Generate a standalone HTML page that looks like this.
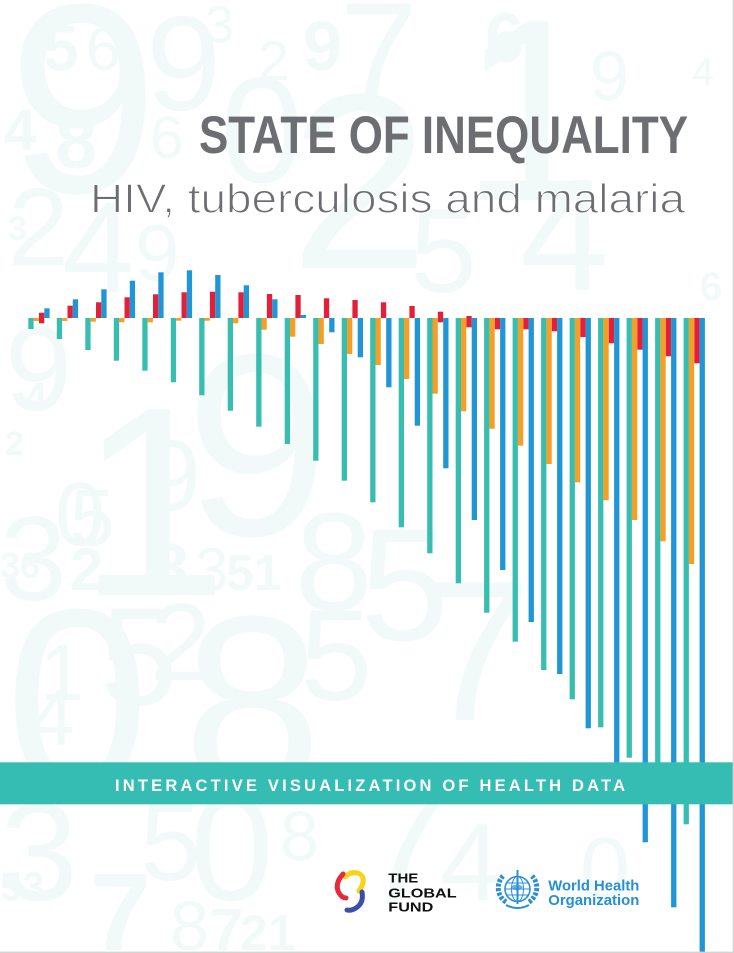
<!DOCTYPE html>
<html>
<head>
<meta charset="utf-8">
<style>
  html,body{margin:0;padding:0;background:#fff;}
  body{width:734px;height:953px;overflow:hidden;}
  svg{display:block;}
</style>
</head>
<body>
<svg width="734" height="953" viewBox="0 0 734 953" xmlns="http://www.w3.org/2000/svg">
  <rect x="0" y="0" width="734" height="953" fill="#ffffff"/>

  <!-- background numerals -->
  <g fill="#f2faf9" font-family="Liberation Sans, sans-serif">
    <text x="8" y="192" font-size="270">9</text>
    <text x="43" y="70" font-size="64" font-weight="bold">5</text>
    <text x="86" y="70" font-size="62">6</text>
    <text x="146" y="110" font-size="135">9</text>
    <text x="205" y="42" font-size="52">3</text>
    <text x="258" y="80" font-size="56">2</text>
    <text x="303" y="70" font-size="70" font-weight="bold">9</text>
    <text x="340" y="100" font-size="140">7</text>
    <text x="460" y="200" font-size="260">1</text>
    <text x="485" y="62" font-size="70" font-weight="bold">6</text>
    <text x="590" y="100" font-size="70">9</text>
    <text x="692" y="85" font-size="40">4</text>
    <text x="4" y="150" font-size="58" font-weight="bold">4</text>
    <text x="55" y="168" font-size="76" font-weight="bold">8</text>
    <text x="150" y="158" font-size="60">6</text>
    <text x="220" y="182" font-size="150">0</text>
    <text x="290" y="268" font-size="250">2</text>
    <text x="8" y="265" font-size="110">2</text>
    <text x="8" y="240" font-size="34" font-weight="bold">3</text>
    <text x="62" y="292" font-size="130">4</text>
    <text x="135" y="280" font-size="80">9</text>
    <text x="410" y="292" font-size="120">5</text>
    <text x="520" y="290" font-size="160">4</text>
    <text x="700" y="300" font-size="40" font-weight="bold">6</text>
    <text x="5" y="410" font-size="120">9</text>
    <text x="25" y="410" font-size="40" font-weight="bold">4</text>
    <text x="5" y="455" font-size="34" font-weight="bold">2</text>
    <text x="78" y="595" font-size="270">1</text>
    <text x="185" y="535" font-size="260">9</text>
    <text x="145" y="510" font-size="100">9</text>
    <text x="55" y="545" font-size="90">0</text>
    <text x="70" y="545" font-size="80">5</text>
    <text x="0" y="600" font-size="120">3</text>
    <text x="0" y="578" font-size="36" font-weight="bold">36</text>
    <text x="70" y="590" font-size="60" font-weight="bold">2</text>
    <text x="150" y="592" font-size="70" font-weight="bold">8</text>
    <text x="195" y="590" font-size="60">3</text>
    <text x="226" y="590" font-size="50" font-weight="bold">51</text>
    <text x="295" y="610" font-size="140">8</text>
    <text x="360" y="640" font-size="160">5</text>
    <text x="420" y="720" font-size="200">7</text>
    <text x="5" y="790" font-size="260">0</text>
    <text x="100" y="705" font-size="140">5</text>
    <text x="150" y="680" font-size="110">2</text>
    <text x="183" y="790" font-size="250">8</text>
    <text x="300" y="700" font-size="130">5</text>
    <text x="40" y="700" font-size="80">1</text>
    <text x="30" y="745" font-size="80">4</text>
    <text x="0" y="900" font-size="140">3</text>
    <text x="0" y="900" font-size="40" font-weight="bold">53</text>
    <text x="140" y="880" font-size="110">5</text>
    <text x="90" y="950" font-size="110" font-weight="bold">7</text>
    <text x="190" y="900" font-size="150">0</text>
    <text x="170" y="950" font-size="70">8</text>
    <text x="210" y="950" font-size="60" font-weight="bold">7</text>
    <text x="240" y="950" font-size="50" font-weight="bold">21</text>
    <text x="280" y="860" font-size="70">8</text>
    <text x="360" y="900" font-size="160">7</text>
    <text x="440" y="900" font-size="110">4</text>
    <text x="580" y="900" font-size="90">0</text>
  </g>

  <!-- title -->
  <text x="199" y="153" font-family="Liberation Sans, sans-serif" font-weight="bold" font-size="52.5" fill="#6d6e71" textLength="489" lengthAdjust="spacingAndGlyphs">STATE OF INEQUALITY</text>
  <text x="90" y="212.5" font-family="Liberation Sans, sans-serif" font-size="41" fill="#6d6e71" stroke="#ffffff" stroke-width="1.1" textLength="595" lengthAdjust="spacingAndGlyphs">HIV, tuberculosis and malaria</text>

  <!-- bars -->
  <g id="teal" fill="#38bdb1">
    <rect x="28.3" y="318" width="5.3" height="11"/>
    <rect x="56.8" y="318" width="5.3" height="21"/>
    <rect x="85.3" y="318" width="5.3" height="32"/>
    <rect x="113.8" y="318" width="5.3" height="42.7"/>
    <rect x="142.3" y="318" width="5.3" height="52.7"/>
    <rect x="170.8" y="318" width="5.3" height="64.3"/>
    <rect x="199.2" y="318" width="5.3" height="77.3"/>
    <rect x="227.7" y="318" width="5.3" height="92.7"/>
    <rect x="256.2" y="318" width="5.3" height="108.7"/>
    <rect x="284.7" y="318" width="5.3" height="126"/>
    <rect x="313.2" y="318" width="5.3" height="142.7"/>
    <rect x="341.7" y="318" width="5.3" height="162.7"/>
    <rect x="370.2" y="318" width="5.3" height="184.3"/>
    <rect x="398.7" y="318" width="5.3" height="209.3"/>
    <rect x="427.2" y="318" width="5.3" height="235.3"/>
    <rect x="455.7" y="318" width="5.3" height="265.3"/>
    <rect x="484.1" y="318" width="5.3" height="294.7"/>
    <rect x="512.6" y="318" width="5.3" height="323.7"/>
    <rect x="541.1" y="318" width="5.3" height="352"/>
    <rect x="569.6" y="318" width="5.3" height="381.3"/>
    <rect x="598.1" y="318" width="5.3" height="409.3"/>
    <rect x="626.6" y="318" width="5.3" height="439.7"/>
    <rect x="655.1" y="318" width="5.3" height="472"/>
    <rect x="683.6" y="318" width="5.3" height="506.3"/>
  </g>
  <g id="orange" fill="#f59f26">
    <rect x="33.6" y="318" width="5.3" height="3"/>
    <rect x="62.1" y="318" width="5.3" height="3"/>
    <rect x="90.6" y="318" width="5.3" height="3.7"/>
    <rect x="119.1" y="318" width="5.3" height="4.3"/>
    <rect x="147.6" y="318" width="5.3" height="4.3"/>
    <rect x="176.1" y="318" width="5.3" height="2.7"/>
    <rect x="204.5" y="318" width="5.3" height="2.7"/>
    <rect x="233" y="318" width="5.3" height="5.3"/>
    <rect x="261.5" y="318" width="5.3" height="11.7"/>
    <rect x="290" y="318" width="5.3" height="18.7"/>
    <rect x="318.5" y="318" width="5.3" height="26"/>
    <rect x="347" y="318" width="5.3" height="36"/>
    <rect x="375.5" y="318" width="5.3" height="47"/>
    <rect x="404" y="318" width="5.3" height="61"/>
    <rect x="432.5" y="318" width="5.3" height="75.7"/>
    <rect x="461" y="318" width="5.3" height="93.3"/>
    <rect x="489.4" y="318" width="5.3" height="110.7"/>
    <rect x="517.9" y="318" width="5.3" height="127.7"/>
    <rect x="546.4" y="318" width="5.3" height="146"/>
    <rect x="574.9" y="318" width="5.3" height="164.3"/>
    <rect x="603.4" y="318" width="5.3" height="182.3"/>
    <rect x="631.9" y="318" width="5.3" height="202"/>
    <rect x="660.4" y="318" width="5.3" height="223.3"/>
    <rect x="688.9" y="318" width="5.3" height="246"/>
  </g>
  <g id="red" fill="#e41f3a">
    <rect x="39" y="312.7" width="5.3" height="10.6"/>
    <rect x="67.5" y="305.7" width="5.3" height="12.3"/>
    <rect x="96" y="302.3" width="5.3" height="15.7"/>
    <rect x="124.5" y="297.3" width="5.3" height="20.7"/>
    <rect x="153" y="294.3" width="5.3" height="23.7"/>
    <rect x="181.5" y="292.3" width="5.3" height="25.7"/>
    <rect x="209.9" y="291.7" width="5.3" height="26.3"/>
    <rect x="238.4" y="292.3" width="5.3" height="25.7"/>
    <rect x="266.9" y="294" width="5.3" height="24"/>
    <rect x="295.4" y="295" width="5.3" height="23"/>
    <rect x="323.9" y="298.3" width="5.3" height="19.7"/>
    <rect x="352.4" y="300" width="5.3" height="18"/>
    <rect x="380.9" y="302.3" width="5.3" height="15.7"/>
    <rect x="409.4" y="306" width="5.3" height="12"/>
    <rect x="437.9" y="311.7" width="5.3" height="10.6"/>
    <rect x="466.4" y="316" width="5.3" height="11.3"/>
    <rect x="494.8" y="318" width="5.3" height="11.3"/>
    <rect x="523.3" y="318" width="5.3" height="11.3"/>
    <rect x="551.8" y="318" width="5.3" height="13.3"/>
    <rect x="580.3" y="318" width="5.3" height="19"/>
    <rect x="608.8" y="318" width="5.3" height="25.3"/>
    <rect x="637.3" y="318" width="5.3" height="31.7"/>
    <rect x="665.8" y="318" width="5.3" height="38.3"/>
    <rect x="694.3" y="318" width="5.3" height="45.3"/>
  </g>
  <g id="blue" fill="#2196d4">
    <rect x="44.3" y="308.3" width="5.3" height="9.7"/>
    <rect x="72.8" y="299.3" width="5.3" height="18.7"/>
    <rect x="101.3" y="289.3" width="5.3" height="28.7"/>
    <rect x="129.8" y="280.7" width="5.3" height="37.3"/>
    <rect x="158.3" y="272.3" width="5.3" height="45.7"/>
    <rect x="186.8" y="270.3" width="5.3" height="47.7"/>
    <rect x="215.2" y="275" width="5.3" height="43"/>
    <rect x="243.7" y="285.3" width="5.3" height="32.7"/>
    <rect x="272.2" y="299.3" width="5.3" height="18.7"/>
    <rect x="300.7" y="315" width="5.3" height="3"/>
    <rect x="329.2" y="318" width="5.3" height="14.3"/>
    <rect x="357.7" y="318" width="5.3" height="39.3"/>
    <rect x="386.2" y="318" width="5.3" height="69.3"/>
    <rect x="414.7" y="318" width="5.3" height="107.7"/>
    <rect x="443.2" y="318" width="5.3" height="150.3"/>
    <rect x="471.7" y="318" width="5.3" height="202"/>
    <rect x="500.1" y="318" width="5.3" height="252"/>
    <rect x="528.6" y="318" width="5.3" height="304"/>
    <rect x="557.1" y="318" width="5.3" height="356"/>
    <rect x="585.6" y="318" width="5.3" height="410.3"/>
    <rect x="614.1" y="318" width="5.3" height="467"/>
    <rect x="642.6" y="318" width="5.3" height="524.3"/>
    <rect x="671.1" y="318" width="5.3" height="589.3"/>
    <rect x="699.6" y="318" width="5.3" height="635"/>
  </g>

  <!-- banner -->
  <rect x="0" y="762.3" width="734" height="42" fill="#36bdb3"/>
  <text x="115" y="791" font-family="Liberation Sans, sans-serif" font-weight="bold" font-size="16.5" fill="#ffffff" textLength="510" lengthAdjust="spacing">INTERACTIVE VISUALIZATION OF HEALTH DATA</text>

  <!-- Global Fund logo -->
  <g fill="none" stroke-linecap="round">
    <path d="M345,877 Q352,870 360,874 Q367,879 359,891" stroke="#f7d417" stroke-width="5"/>
    <path d="M343,874 Q334,884 339,893 Q342,898 346,898" stroke="#e42a3c" stroke-width="5"/>
    <path d="M362,892 Q364,903 356,908 Q351,911 347,910" stroke="#3c4fa6" stroke-width="5"/>
  </g>
  <g font-family="Liberation Sans, sans-serif" font-weight="bold" font-size="13" fill="#111111">
    <text x="388.3" y="882.7" textLength="30" lengthAdjust="spacingAndGlyphs">THE</text>
    <text x="388.3" y="897.3" textLength="68.3" lengthAdjust="spacingAndGlyphs">GLOBAL</text>
    <text x="388.3" y="911.5" textLength="45" lengthAdjust="spacingAndGlyphs">FUND</text>
  </g>

  <!-- WHO emblem -->
  <g fill="none" stroke="#2a8fd6">
    <circle cx="517.5" cy="889" r="12.5" stroke-width="1.6"/>
    <ellipse cx="517.5" cy="889" rx="6" ry="12.5" stroke-width="1"/>
    <line x1="505" y1="889" x2="530" y2="889" stroke-width="1"/>
    <line x1="507" y1="883" x2="528" y2="883" stroke-width="1"/>
    <line x1="507" y1="895" x2="528" y2="895" stroke-width="1"/>
    <line x1="517.5" y1="870" x2="517.5" y2="904" stroke-width="2"/>
    <path d="M506,902 A17,17 0 0 1 503,876" stroke-width="5" stroke-dasharray="3,1.5"/>
    <path d="M529,902 A17,17 0 0 0 532,876" stroke-width="5" stroke-dasharray="3,1.5"/>
    <path d="M506,905 Q517.5,911 529,905" stroke-width="2"/>
  </g>
  <path d="M511,887 Q517,882 523,887 Q517,894 511,887 Z" fill="#2a8fd6" opacity="0.7"/>
  <g font-family="Liberation Sans, sans-serif" font-weight="bold" font-size="14.7" fill="#2490d6">
    <text x="548.3" y="890.7" textLength="91" lengthAdjust="spacingAndGlyphs">World Health</text>
    <text x="548.3" y="905" textLength="91" lengthAdjust="spacingAndGlyphs">Organization</text>
  </g>

  <!-- frame lines -->
  <rect x="732.6" y="0" width="1.4" height="953" fill="#d4d4d4"/>
  <rect x="0" y="951.6" width="734" height="1.4" fill="#d4d4d4"/>
</svg>
</body>
</html>
